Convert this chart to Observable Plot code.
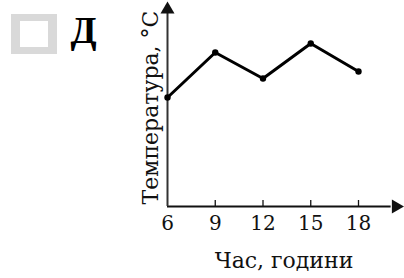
<!DOCTYPE html>
<html>
<head>
<meta charset="utf-8">
<script src="https://cdn.jsdelivr.net/npm/d3@7"></script>
<script src="https://cdn.jsdelivr.net/npm/@observablehq/plot@0.6"></script>
<style>
  html, body { margin: 0; padding: 0; background: #fff; }
  #wrap { position: relative; width: 404px; height: 278px; }
  svg { display: block; }
  #box { position: absolute; left: 11px; top: 14px; width: 46px; height: 40px; box-sizing: border-box; border-style: solid; border-color: #d9d9d9; border-width: 7px 9px; background: #fff; }
</style>
</head>
<body>
<div id="wrap"><div id="chart"></div><div id="box"></div></div>
<script>
const hours = [6, 9, 12, 15, 18];
const temps = [10.9, 15.4, 12.8, 16.3, 13.5];
const tickLabels = ["6", "9", "12", "15", "18"];
const xLabel = "Час, години";
const yLabel = "Температура, °С";
const optionLetter = "Д";

const data = hours.map((h, i) => ({hour: h, temp: temps[i]}));
const xMin = hours[0];
const xArrowEnd = 20.35;
const yArrowEnd = 19.7;

const chart = Plot.plot({
  width: 404,
  height: 278,
  marginLeft: 167,
  marginRight: 46,
  marginTop: 6,
  marginBottom: 72,
  style: {fontFamily: "DejaVu Serif", background: "#fff"},
  x: {domain: [6, 18], axis: null},
  y: {domain: [0, 20], axis: null},
  marks: [
    // axes lines
    Plot.ruleY([0], {x1: xMin, x2: xArrowEnd - 0.3, stroke: "#111", strokeWidth: 2.2}),
    Plot.ruleX([xMin], {y1: 0, y2: yArrowEnd - 0.3, stroke: "#333", strokeWidth: 2}),
    // arrow heads
    Plot.dot([{x: xArrowEnd, y: 0}], {x: "x", y: "y", symbol: "triangle", r: 5.2, fill: "#111", stroke: null, rotate: 90}),
    Plot.dot([{x: xMin, y: yArrowEnd}], {x: "x", y: "y", symbol: "triangle", r: 5.2, fill: "#111", stroke: null}),
    // ticks
    Plot.ruleX(hours.slice(1), {y1: 0, y2: 0.6, stroke: "#111", strokeWidth: 1.3}),
    // tick labels
    Plot.text(hours, {x: d => d, y: 0, text: (d, i) => tickLabels[i], dy: 17, fontSize: 20, fill: "#111", lineAnchor: "middle"}),
    // x label
    Plot.text([xLabel], {frameAnchor: "bottom", textAnchor: "middle", dx: 21, dy: 61, fontSize: 22, fill: "#111"}),
    // y label
    Plot.text([yLabel], {frameAnchor: "left", textAnchor: "middle", lineAnchor: "middle", dx: -17, dy: 1, rotate: -90, fontSize: 22, fill: "#111"}),
    // data line
    Plot.line(data, {x: "hour", y: "temp", stroke: "#000", strokeWidth: 3, strokeLinejoin: "miter"}),
    Plot.dot(data, {x: "hour", y: "temp", r: 3.2, fill: "#000"}),
    // option letter
    Plot.text([optionLetter], {frameAnchor: "top-left", textAnchor: "start", dx: -97, dy: 10, fontSize: 38, fontWeight: "bold", fontFamily: "Liberation Serif", fill: "#000"})
  ]
});
document.getElementById("chart").appendChild(chart);
</script>
</body>
</html>
